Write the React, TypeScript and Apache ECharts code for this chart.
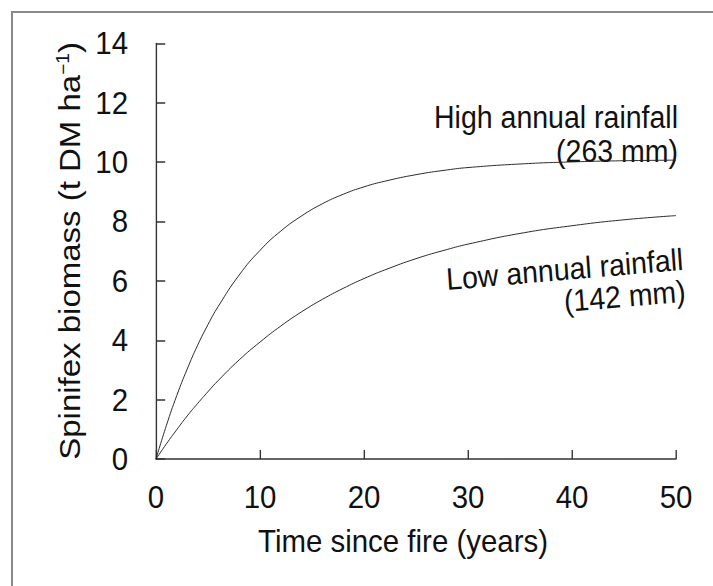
import React, { useEffect, useRef } from "react";
import * as echarts from "echarts";

const years = [0, 1, 2, 3, 4, 5, 6, 8, 10, 12, 14, 16, 18, 20, 22, 25, 28, 30, 35, 40, 45, 50];
const highRainfall = [0, 1.13, 2.14, 3.03, 3.83, 4.53, 5.15, 6.2, 7.03, 7.68, 8.19, 8.6, 8.92, 9.17, 9.36, 9.58, 9.74, 9.82, 9.94, 10.01, 10.05, 10.07];
const lowRainfall = [0, 0.51, 0.99, 1.45, 1.87, 2.27, 2.65, 3.34, 3.94, 4.48, 4.96, 5.38, 5.75, 6.08, 6.37, 6.75, 7.06, 7.24, 7.6, 7.86, 8.06, 8.2];
const xTicks = [0, 10, 20, 30, 40, 50];
const yTicks = [0, 2, 4, 6, 8, 10, 12, 14];
const xTitle = "Time since fire (years)";
const yTitle = "Spinifex biomass (t DM ha";
const highLabel = ["High annual rainfall", "(263 mm)"];
const lowLabel = ["Low annual rainfall", "(142 mm)"];

const FONT = "'Liberation Sans', Arial, sans-serif";
const SX = 0.92; // horizontal compression of the original figure
const W = 713;
const H = 586;
const cx = (x: number) => x / SX;

export default function App() {
  const ref = useRef<HTMLDivElement>(null);
  useEffect(() => {
    if (!ref.current) return;
    const chart = echarts.init(ref.current, null, { renderer: "svg" });
    const lineStyle = { color: "#222", width: 1 };
    const axisLine = { show: true, lineStyle: { color: "#333", width: 1.5 } };
    chart.setOption({
      animation: false,
      grid: { left: cx(156), right: cx(37), top: 43.5, bottom: 127, containLabel: false },
      xAxis: {
        type: "value",
        min: xTicks[0],
        max: xTicks[xTicks.length - 1],
        interval: 10,
        axisLine,
        axisTick: { show: true, inside: true, length: 9, lineStyle: { color: "#333", width: 1.5 } },
        splitLine: { show: false },
        axisLabel: { color: "#111", fontFamily: FONT, fontSize: 32, margin: 22 },
      },
      yAxis: {
        type: "value",
        min: yTicks[0],
        max: yTicks[yTicks.length - 1],
        interval: 2,
        axisLine,
        axisTick: { show: true, inside: true, length: 10, lineStyle: { color: "#333", width: 1.5 } },
        splitLine: { show: false },
        axisLabel: { color: "#111", fontFamily: FONT, fontSize: 32, margin: cx(28) },
      },
      series: [
        {
          type: "line",
          data: years.map((y, i) => [y, highRainfall[i]]),
          smooth: true,
          symbol: "none",
          lineStyle,
        },
        {
          type: "line",
          data: years.map((y, i) => [y, lowRainfall[i]]),
          smooth: true,
          symbol: "none",
          lineStyle,
        },
      ],
      graphic: [
        { type: "line", shape: { x1: cx(11), y1: 12, x2: cx(W), y2: 12 }, style: { stroke: "#8a8a8a", lineWidth: 2 } },
        { type: "line", shape: { x1: cx(12), y1: 11, x2: cx(12), y2: H }, style: { stroke: "#8a8a8a", lineWidth: 2.2 } },
        {
          type: "text",
          x: cx(403),
          y: 541,
          style: { text: xTitle, fontFamily: FONT, fontSize: 32, fill: "#111", align: "center", verticalAlign: "middle" },
        },
        {
          type: "text",
          x: cx(69),
          y: 251,
          rotation: Math.PI / 2,
          style: {
            text: "{a|" + yTitle + "}{s|−1}{a|)}",
            align: "center",
            verticalAlign: "middle",
            rich: {
              a: { fontFamily: FONT, fontSize: 33, fill: "#111" },
              s: { fontFamily: FONT, fontSize: 19, fill: "#111", verticalAlign: "top", padding: [0, 0, 14, 0] },
            },
          },
        },
        {
          type: "text",
          x: cx(678),
          y: 100,
          style: {
            text: highLabel.join("\n"),
            fontFamily: FONT,
            fontSize: 31,
            lineHeight: 34,
            fill: "#111",
            align: "right",
            verticalAlign: "top",
          },
        },
        {
          type: "text",
          x: cx(682),
          y: 243,
          rotation: 0.078,
          style: {
            text: lowLabel.join("\n"),
            fontFamily: FONT,
            fontSize: 31,
            lineHeight: 32,
            fill: "#111",
            align: "right",
            verticalAlign: "top",
          },
        },
      ],
    });
    return () => chart.dispose();
  }, []);
  return (
    <div
      ref={ref}
      style={{
        position: "absolute",
        left: 0,
        top: 0,
        width: cx(W),
        height: H,
        transform: `scaleX(${SX})`,
        transformOrigin: "0 0",
      }}
    />
  );
}
